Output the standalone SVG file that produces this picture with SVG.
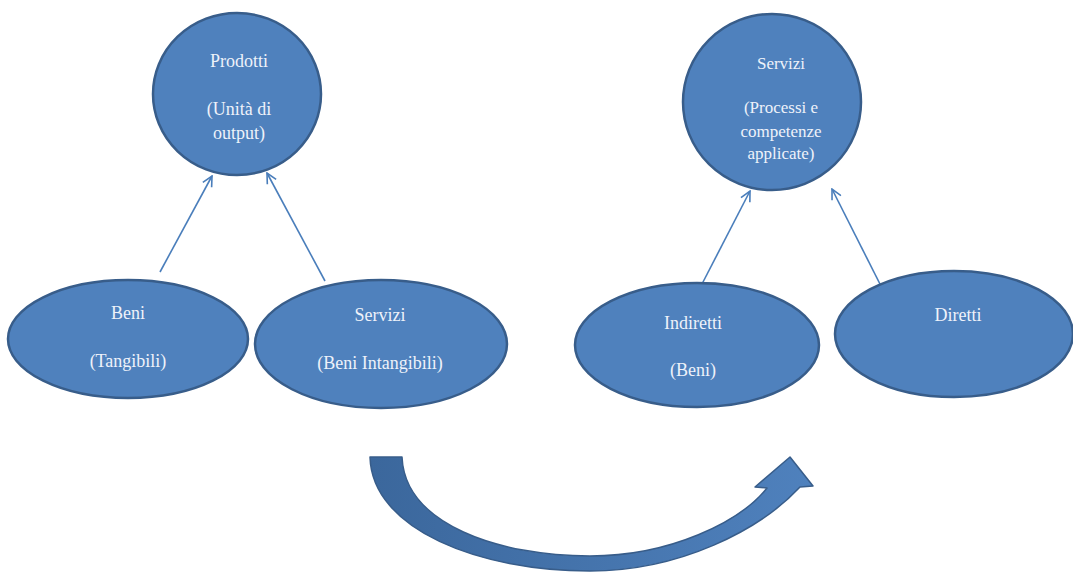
<svg xmlns="http://www.w3.org/2000/svg" width="1073" height="572" viewBox="0 0 1073 572">
<defs>
<style>
.node{fill:#4f81bd;stroke:#385d8a;stroke-width:2.5}
.lbl{font-family:"Liberation Serif",serif;font-size:18px;fill:#eef2fa;text-anchor:middle}
.sm{font-size:17px}
.conn{stroke:#4a7ebb;stroke-width:1.6;fill:none;marker-end:url(#ah)}
</style>
<marker id="ah" viewBox="0 0 12 12" refX="11" refY="6" markerWidth="12" markerHeight="12" markerUnits="userSpaceOnUse" orient="auto">
<path d="M1,1 L11,6 L1,11" fill="none" stroke="#4a7ebb" stroke-width="1.6"/>
</marker>
<linearGradient id="bg" x1="0" y1="0" x2="1" y2="0">
<stop offset="0" stop-color="#3b679c"/>
<stop offset="1" stop-color="#4f81bd"/>
</linearGradient>
</defs>
<rect width="1073" height="572" fill="#ffffff"/>
<g id="connectors">
<line class="conn" x1="160" y1="272" x2="212" y2="176"/>
<line class="conn" x1="325" y1="281" x2="267" y2="173"/>
<line class="conn" x1="702" y1="284" x2="750" y2="191"/>
<line class="conn" x1="884" y1="292" x2="832" y2="189"/>
</g>
<g id="prodotti">
<ellipse class="node" cx="237" cy="94" rx="84" ry="81"/>
<text class="lbl" x="239" y="67">Prodotti</text>
<text class="lbl" x="239" y="115">(Unità di</text>
<text class="lbl" x="239" y="139">output)</text>
</g>
<g id="servizi-top">
<ellipse class="node" cx="772" cy="102" rx="89" ry="88"/>
<text class="lbl sm" x="781" y="69">Servizi</text>
<text class="lbl sm" x="781" y="113">(Processi e</text>
<text class="lbl sm" x="781" y="137">competenze</text>
<text class="lbl sm" x="781" y="159">applicate)</text>
</g>
<g id="beni">
<ellipse class="node" cx="128" cy="339" rx="120" ry="59"/>
<text class="lbl" x="128" y="319">Beni</text>
<text class="lbl" x="128" y="367">(Tangibili)</text>
</g>
<g id="servizi-intangibili">
<ellipse class="node" cx="381" cy="344" rx="126" ry="64"/>
<text class="lbl" x="380" y="321">Servizi</text>
<text class="lbl" x="380" y="369">(Beni Intangibili)</text>
</g>
<g id="indiretti">
<ellipse class="node" cx="697" cy="345" rx="122" ry="62"/>
<text class="lbl" x="693" y="329">Indiretti</text>
<text class="lbl" x="693" y="376">(Beni)</text>
</g>
<g id="diretti">
<ellipse class="node" cx="954" cy="334" rx="119" ry="63"/>
<text class="lbl" x="958" y="321">Diretti</text>
</g>
<g id="curved-arrow">
<path d="M370,457 L402,457 C405,525 500,556 590,556 C670,556 740,522 767,488 L755,487 L790,457 L813,486 L800,487 C760,530 680,571 590,571 C480,571 372,530 370,457 Z" fill="url(#bg)" stroke="#385d8a" stroke-width="1.5" stroke-linejoin="round"/>
</g>
</svg>
